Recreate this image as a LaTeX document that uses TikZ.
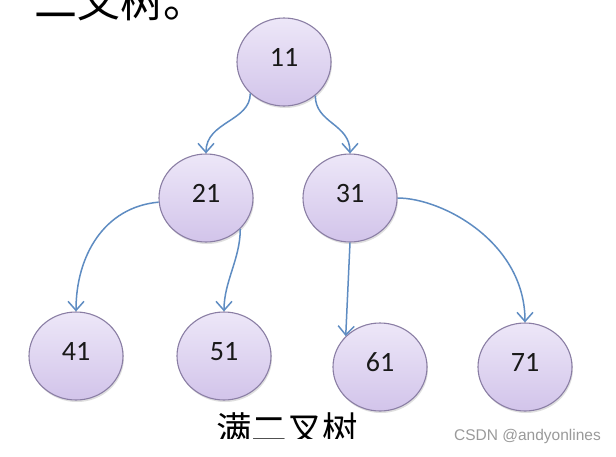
\documentclass[tikz,border=0pt]{standalone}
\usepackage{xcolor}
\usepackage{fontspec}
\usepackage{tikz}
\usetikzlibrary{shapes.geometric, arrows.meta, shadows}
\newfontfamily\cjkfont{Noto Sans CJK SC}
\newfontfamily\numfont{Carlito}
\newfontfamily\markfont{Liberation Sans}
\definecolor{treetop}{HTML}{EDE7F8}
\definecolor{treebot}{HTML}{D2C4EA}
\definecolor{treerim}{HTML}{8A7EA4}
\definecolor{treeblue}{HTML}{5E8CC2}
\definecolor{markgray}{HTML}{9A9A9A}
\tikzset{
  treenode/.style={ellipse, draw=treerim, line width=1.1pt, top color=treetop, bottom color=treebot,
    minimum width=94pt, minimum height=88pt, inner sep=0pt, text depth=10pt,
    font=\numfont\fontsize{28}{28}\selectfont, text=black!90,
    drop shadow={shadow xshift=1pt, shadow yshift=-2pt, opacity=0.25}},
  treeedge/.style={-{Straight Barb[length=9pt, width=16pt]}, line width=1.5pt, draw=treeblue},
  titlelabel/.style={font=\cjkfont\fontsize{43}{43}\selectfont, inner sep=0pt, anchor=base west},
  captionlabel/.style={font=\cjkfont\fontsize{35.5}{35.5}\selectfont, inner sep=0pt, anchor=base west},
  marklabel/.style={font=\markfont\fontsize{15.5}{15.5}\selectfont, text=markgray, inner sep=0pt, anchor=base east}
}

\begin{document}
\begin{tikzpicture}[x=1pt, y=-1pt]
  \useasboundingbox[fill=white] (0,0) rectangle (616,456);
  \begin{scope}
    \clip (0,0) rectangle (616,438);
    \node[titlelabel] at (34,17) (title) {二叉树。};

    \node[treenode] at (284,62) (n11) {11};
    \node[treenode] at (206,198) (n21) {21};
    \node[treenode] at (350,198) (n31) {31};
    \node[treenode] at (76,356) (n41) {41};
    \node[treenode] at (224,356) (n51) {51};
    \node[treenode] at (380,367) (n61) {61};
    \node[treenode] at (525,367) (n71) {71};

    \draw[treeedge] (n11.223) .. controls +(0,28) and +(0,-32) .. (n21.north);
    \draw[treeedge] (n11.-47) .. controls +(0,28) and +(0,-30) .. (n31.north);
    \draw[treeedge] (n21.185) .. controls +(-55,5) and +(0,-55) .. (n41.north);
    \draw[treeedge] (n21.-42) .. controls +(0,30) and +(0,-30) .. (n51.north);
    \draw[treeedge] (n31.south) -- (n61.138);
    \draw[treeedge] (n31.0) .. controls +(45,0) and +(0,-80) .. (n71.north);

    \node[captionlabel] at (216,442) (caption) {满二叉树};
  \end{scope}
  \node[marklabel] at (601,440) (mark) {CSDN @andyonlines};
\end{tikzpicture}
\end{document}
